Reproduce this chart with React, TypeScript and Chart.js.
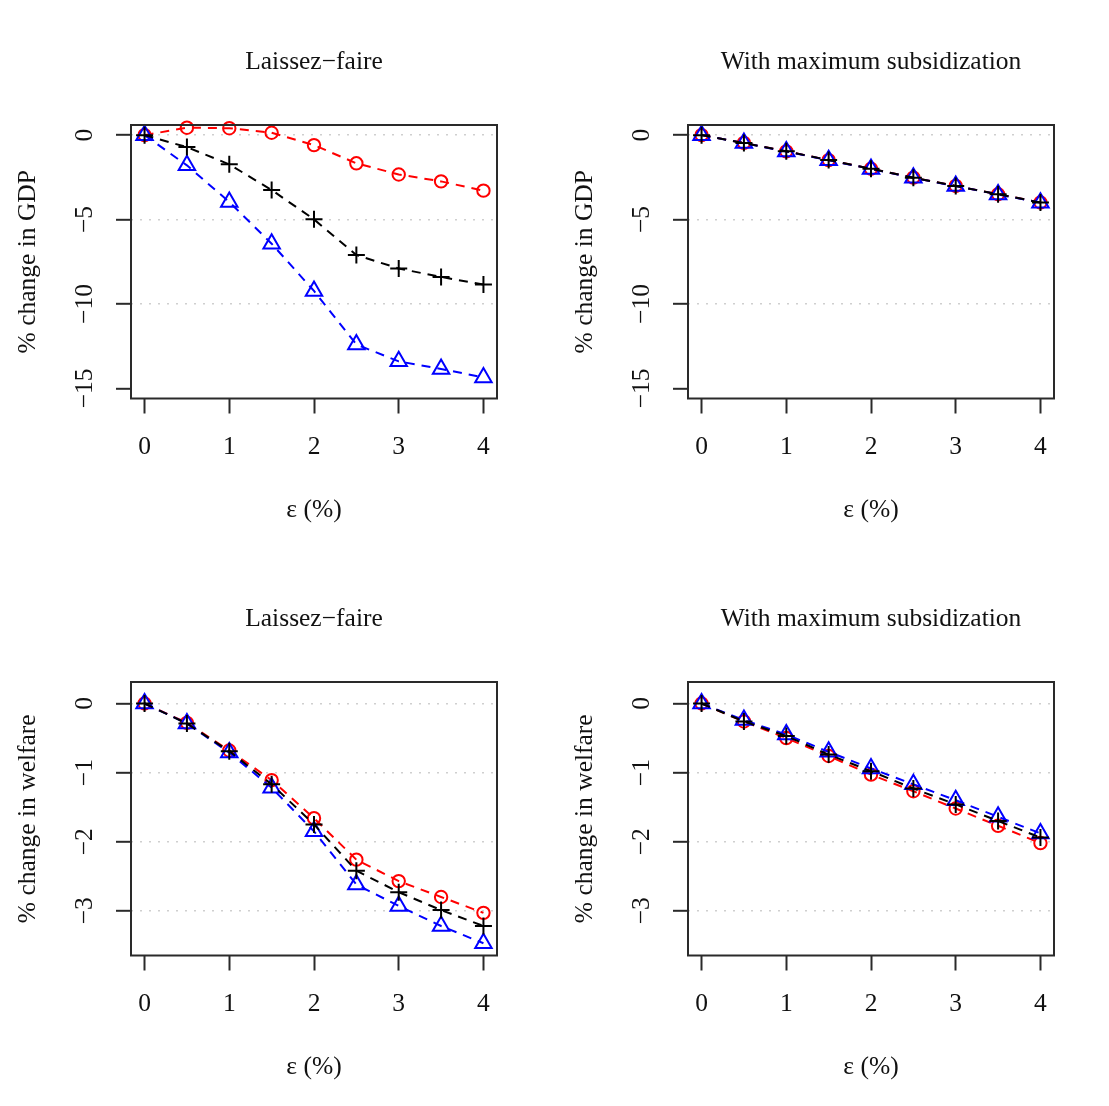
import React, { useEffect, useRef } from "react";
import { Chart, registerables } from "chart.js";

Chart.register(...registerables);

// ---- data ----
const epsValues = [0, 0.5, 1, 1.5, 2, 2.5, 3, 3.5, 4];
const xTickValues = [0, 1, 2, 3, 4];

const gdpTickValues = [0, -5, -10, -15];
const gdpGridValues = [0, -5, -10];
const welfareTickValues = [0, -1, -2, -3];
const welfareGridValues = [0, -1, -2, -3];

const panelTitles = ["Laissez\u2212faire", "With maximum subsidization"];
const yLabelGdp = "% change in GDP";
const yLabelWelfare = "% change in welfare";
const xLabel = "\u03b5 (%)";

// GDP, laissez-faire
const gdpLfRed = [0, 0.44, 0.41, 0.14, -0.59, -1.67, -2.33, -2.74, -3.29];
const gdpLfBlack = [0, -0.71, -1.73, -3.25, -4.99, -7.1, -7.9, -8.4, -8.85];
const gdpLfBlue = [0, -1.79, -3.96, -6.43, -9.23, -12.4, -13.4, -13.85, -14.35];

// GDP, maximum subsidization
const gdpMsRed = [0, -0.46, -0.96, -1.48, -1.99, -2.52, -3.01, -3.5, -3.99];
const gdpMsBlack = [0, -0.47, -0.96, -1.48, -1.99, -2.52, -3.01, -3.5, -3.99];
const gdpMsBlue = [0, -0.47, -0.97, -1.49, -2.0, -2.53, -3.02, -3.51, -4.0];

// Welfare, laissez-faire
const welLfRed = [0, -0.28, -0.68, -1.11, -1.66, -2.26, -2.57, -2.8, -3.03];
const welLfBlack = [0, -0.29, -0.69, -1.17, -1.75, -2.42, -2.73, -2.99, -3.22];
const welLfBlue = [0, -0.29, -0.71, -1.22, -1.85, -2.62, -2.93, -3.22, -3.47];

// Welfare, maximum subsidization
const welMsRed = [0, -0.26, -0.5, -0.76, -1.03, -1.27, -1.52, -1.77, -2.02];
const welMsBlack = [0, -0.26, -0.47, -0.74, -0.98, -1.23, -1.46, -1.7, -1.94];
const welMsBlue = [0, -0.24, -0.45, -0.7, -0.94, -1.17, -1.4, -1.64, -1.88];

// ---- rendering ----
const FONT_FAMILY = "'Liberation Serif', 'Times New Roman', serif";
const TEXT_COLOR = "#111111";
const CANVAS_W = 552;
const CANVAS_H = 553;

const fmt = (v: number) => (v < 0 ? "\u2212" + Math.abs(v) : String(v));

type PanelProps = {
  title: string;
  yLabel: string;
  yTicks: number[];
  yGrid: number[];
  yMin: number;
  yMax: number;
  red: number[];
  black: number[];
  blue: number[];
  left: number;
  top: number;
  yTickPad: number;
};

function Panel(p: PanelProps) {
  const ref = useRef<HTMLCanvasElement>(null);
  useEffect(() => {
    if (!ref.current) return;
    const font = { family: FONT_FAMILY, size: 25.5, weight: "normal" as const };
    const mk = (vals: number[]) => epsValues.map((x, i) => ({ x, y: vals[i] }));
    const common = {
      showLine: true,
      borderWidth: 2,
      borderDash: [9, 7],
      pointBorderWidth: 2,
      pointBackgroundColor: "rgba(0,0,0,0)",
      tension: 0,
      clip: false as const,
    };
    const boxPlugin = {
      id: "rbox",
      afterDraw(chart: any) {
        const { ctx, chartArea: a } = chart;
        ctx.save();
        ctx.strokeStyle = "#2a2a2a";
        ctx.lineWidth = 2;
        ctx.setLineDash([]);
        ctx.strokeRect(a.left, a.top, a.right - a.left, a.bottom - a.top);
        ctx.restore();
      },
    };
    const chart = new Chart(ref.current, {
      type: "line",
      data: {
        datasets: [
          {
            label: "red",
            data: mk(p.red),
            borderColor: "#ff0000",
            pointBorderColor: "#ff0000",
            pointStyle: "circle",
            pointRadius: 6.2,
            order: 3,
            ...common,
          },
          {
            label: "blue",
            data: mk(p.blue),
            borderColor: "#0000ff",
            pointBorderColor: "#0000ff",
            pointStyle: "triangle",
            pointRadius: 9.5,
            order: 2,
            ...common,
          },
          {
            label: "black",
            data: mk(p.black),
            borderColor: "#000000",
            pointBorderColor: "#000000",
            pointStyle: "cross",
            pointRadius: 8.5,
            order: 1,
            ...common,
          },
        ],
      },
      options: {
        responsive: false,
        animation: false,
        events: [],
        layout: { padding: { left: 0, right: CANVAS_W - 497, top: 0, bottom: 0 } },
        plugins: {
          legend: { display: false },
          tooltip: { enabled: false },
          title: {
            display: true,
            fullSize: false,
            text: p.title,
            font,
            color: TEXT_COLOR,
            padding: { top: 47, bottom: 47.4 },
          },
        },
        scales: {
          x: {
            type: "linear",
            min: -0.16,
            max: 4.16,
            afterBuildTicks: (s: any) => {
              s.ticks = xTickValues.map((v) => ({ value: v }));
            },
            afterFit: (s: any) => {
              s.height = CANVAS_H - 398.5;
            },
            ticks: {
              font,
              color: TEXT_COLOR,
              padding: 18.5,
              maxRotation: 0,
              autoSkip: false,
              callback: (v: any) => fmt(Number(v)),
            },
            grid: {
              drawOnChartArea: false,
              drawTicks: true,
              tickLength: 15,
              tickColor: "#2a2a2a",
              tickWidth: 2,
            },
            border: { display: false },
            title: {
              display: true,
              text: xLabel,
              font,
              color: TEXT_COLOR,
              padding: { top: 0, bottom: 27 },
            },
          },
          y: {
            type: "linear",
            min: p.yMin,
            max: p.yMax,
            afterBuildTicks: (s: any) => {
              s.ticks = p.yTicks.map((v) => ({ value: v }));
            },
            afterFit: (s: any) => {
              s.width = 131;
            },
            ticks: {
              font,
              color: TEXT_COLOR,
              padding: p.yTickPad,
              minRotation: 90,
              maxRotation: 90,
              crossAlign: "center",
              autoSkip: false,
              callback: (v: any) => fmt(Number(v)),
            },
            grid: {
              drawOnChartArea: true,
              drawTicks: true,
              tickLength: 15,
              lineWidth: 1.6,
              color: (c: any) =>
                c.tick && p.yGrid.includes(c.tick.value) ? "#cfcfcf" : "rgba(0,0,0,0)",
              tickColor: "#2a2a2a",
              tickWidth: 2,
            },
            border: { display: false, dash: [2, 7] },
            title: {
              display: true,
              text: p.yLabel,
              font,
              color: TEXT_COLOR,
              padding: { top: 13, bottom: 0 },
            },
          },
        },
      } as any,
      plugins: [boxPlugin],
    });
    return () => chart.destroy();
  }, []);
  return (
    <canvas
      ref={ref}
      width={CANVAS_W}
      height={CANVAS_H}
      style={{ position: "absolute", left: p.left, top: p.top, display: "block" }}
    />
  );
}

export default function App() {
  const gdpRange = { yMin: -15.6, yMax: 0.6 };
  const welRange = { yMin: -3.647, yMax: 0.311 };
  return (
    <div
      style={{
        position: "absolute",
        left: 0,
        top: 0,
        width: 1109,
        height: 1106,
        background: "#ffffff",
        overflow: "hidden",
      }}
    >
      <Panel
        title={panelTitles[0]}
        yLabel={yLabelGdp}
        yTicks={gdpTickValues}
        yGrid={gdpGridValues}
        {...gdpRange}
        red={gdpLfRed}
        black={gdpLfBlack}
        blue={gdpLfBlue}
        left={0}
        top={0}
        yTickPad={11}
      />
      <Panel
        title={panelTitles[1]}
        yLabel={yLabelGdp}
        yTicks={gdpTickValues}
        yGrid={gdpGridValues}
        {...gdpRange}
        red={gdpMsRed}
        black={gdpMsBlack}
        blue={gdpMsBlue}
        left={557}
        top={0}
        yTickPad={11}
      />
      <Panel
        title={panelTitles[0]}
        yLabel={yLabelWelfare}
        yTicks={welfareTickValues}
        yGrid={welfareGridValues}
        {...welRange}
        red={welLfRed}
        black={welLfBlack}
        blue={welLfBlue}
        left={0}
        top={557}
        yTickPad={17.4}
      />
      <Panel
        title={panelTitles[1]}
        yLabel={yLabelWelfare}
        yTicks={welfareTickValues}
        yGrid={welfareGridValues}
        {...welRange}
        red={welMsRed}
        black={welMsBlack}
        blue={welMsBlue}
        left={557}
        top={557}
        yTickPad={17.4}
      />
    </div>
  );
}
